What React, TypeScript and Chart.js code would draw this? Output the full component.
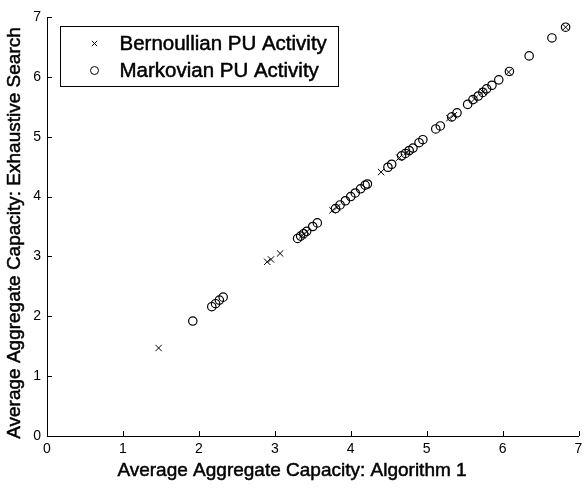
import React, { useEffect, useRef } from 'react';
import { Chart, registerables } from 'chart.js';

Chart.register(...registerables);

const FONT = '"Liberation Sans", Arial, Helvetica, sans-serif';

const bernX = [1.47, 2.90, 2.95, 3.07, 3.36, 3.42, 3.76, 3.82, 4.40, 4.64, 4.74, 5.30, 5.36, 5.63, 5.74, 6.08, 6.83];
const bernY = [1.47, 2.91, 2.95, 3.05, 3.35, 3.41, 3.77, 3.82, 4.41, 4.65, 4.74, 5.31, 5.36, 5.63, 5.75, 6.08, 6.83];

const markX = [1.92, 2.17, 2.22, 2.27, 2.32, 3.30, 3.34, 3.38, 3.42, 3.50, 3.56, 3.80, 3.86, 3.93, 4.00, 4.06, 4.13, 4.19, 4.22, 4.49, 4.54, 4.67, 4.72, 4.77, 4.82, 4.90, 4.95, 5.12, 5.18, 5.33, 5.40, 5.54, 5.61, 5.68, 5.74, 5.79, 5.86, 5.95, 6.09, 6.35, 6.65, 6.83];
const markY = [1.92, 2.16, 2.21, 2.27, 2.32, 3.30, 3.34, 3.38, 3.42, 3.50, 3.56, 3.80, 3.86, 3.93, 4.00, 4.06, 4.13, 4.19, 4.21, 4.49, 4.54, 4.68, 4.72, 4.77, 4.81, 4.90, 4.95, 5.13, 5.18, 5.33, 5.40, 5.54, 5.62, 5.68, 5.74, 5.80, 5.86, 5.95, 6.09, 6.35, 6.65, 6.83];

const tickValues = [0, 1, 2, 3, 4, 5, 6, 7];
const legendLabels = ['Bernoullian PU Activity', 'Markovian PU Activity'];
const xTitle = 'Average Aggregate Capacity: Algorithm 1';
const yTitle = 'Average Aggregate Capacity: Exhaustive Search';

function heavyText(ctx: CanvasRenderingContext2D, text: string, x: number, y: number) {
  ctx.fillText(text, x, y);
  ctx.lineWidth = 0.5;
  ctx.strokeStyle = '#000';
  ctx.strokeText(text, x, y);
}

const inwardTicks = {
  id: 'inwardTicks',
  afterDraw(chart: any) {
    const { ctx, chartArea, scales } = chart;
    const xs = scales.x;
    const ys = scales.y;
    ctx.save();
    ctx.strokeStyle = '#000';
    ctx.lineWidth = 1;
    ctx.beginPath();
    for (const v of tickValues) {
      const px = Math.round(xs.getPixelForValue(v)) + 0.5;
      ctx.moveTo(px, chartArea.bottom);
      ctx.lineTo(px, chartArea.bottom - 5);
      const py = Math.round(ys.getPixelForValue(v)) + 0.5;
      ctx.moveTo(chartArea.left, py);
      ctx.lineTo(chartArea.left + 5, py);
    }
    ctx.stroke();
    ctx.restore();
  },
};

const axisTitles = {
  id: 'axisTitles',
  afterDraw(chart: any) {
    const { ctx, width } = chart;
    ctx.save();
    ctx.fillStyle = '#000';
    ctx.font = `19px ${FONT}`;
    ctx.textAlign = 'center';
    ctx.textBaseline = 'middle';
    heavyText(ctx, xTitle, width / 2, 471);
    ctx.translate(15, 233);
    ctx.rotate(-Math.PI / 2);
    heavyText(ctx, yTitle, 0, 0);
    ctx.restore();
  },
};

const boxLegend = {
  id: 'boxLegend',
  afterDraw(chart: any) {
    const { ctx, chartArea } = chart;
    const left = chartArea.left + 13.5;
    const top = chartArea.top + 9.5;
    const w = 278;
    const h = 60;
    ctx.save();
    ctx.fillStyle = '#fff';
    ctx.fillRect(left, top, w, h);
    ctx.strokeStyle = '#000';
    ctx.lineWidth = 1;
    ctx.strokeRect(left, top, w, h);
    const styles = ['crossRot', 'circle'];
    const radii = [3.5, 4];
    for (let i = 0; i < legendLabels.length; i++) {
      const cy = top + 17 + i * 27;
      const cx = left + 34;
      ctx.strokeStyle = '#000';
      ctx.lineWidth = 1;
      ctx.beginPath();
      if (styles[i] === 'circle') {
        ctx.arc(cx, cy, radii[i], 0, Math.PI * 2);
      } else {
        const r = radii[i] * 0.75;
        ctx.moveTo(cx - r, cy - r);
        ctx.lineTo(cx + r, cy + r);
        ctx.moveTo(cx + r, cy - r);
        ctx.lineTo(cx - r, cy + r);
      }
      ctx.stroke();
      ctx.fillStyle = '#000';
      ctx.font = `20.5px ${FONT}`;
      ctx.textBaseline = 'middle';
      ctx.textAlign = 'left';
      heavyText(ctx, legendLabels[i], left + 59, cy + 1);
    }
    ctx.restore();
  },
};

export default function App() {
  const ref = useRef<HTMLCanvasElement | null>(null);
  useEffect(() => {
    if (!ref.current) return;
    const chart = new Chart(ref.current, {
      type: 'scatter',
      data: {
        datasets: [
          {
            label: legendLabels[0],
            data: bernX.map((x, i) => ({ x, y: bernY[i] })),
            pointStyle: 'crossRot',
            pointRadius: 4.5,
            pointBorderWidth: 1,
            borderColor: '#000',
            backgroundColor: 'rgba(0,0,0,0)',
          },
          {
            label: legendLabels[1],
            data: markX.map((x, i) => ({ x, y: markY[i] })),
            pointStyle: 'circle',
            pointRadius: 4.2,
            pointBorderWidth: 1.2,
            borderColor: '#000',
            backgroundColor: 'rgba(0,0,0,0)',
          },
        ],
      },
      options: {
        animation: false,
        responsive: false,
        devicePixelRatio: 1,
        clip: false as any,
        layout: { padding: { top: 17, right: 1, left: 0, bottom: 0 } },
        plugins: {
          legend: { display: false },
          tooltip: { enabled: false },
        },
        scales: {
          x: {
            type: 'linear',
            min: 0,
            max: 7,
            afterBuildTicks: (s: any) => { s.ticks = tickValues.map((v) => ({ value: v })); },
            afterFit: (s: any) => { s.height = 57; s.paddingRight = 0; s.paddingLeft = 0; },
            grid: { drawOnChartArea: false, drawTicks: false, color: 'rgba(0,0,0,0)' },
            border: { display: true, color: '#000', width: 1 },
            ticks: { color: '#000', font: { family: FONT, size: 14 }, padding: 5, maxRotation: 0 },
            title: { display: false },
          },
          y: {
            type: 'linear',
            min: 0,
            max: 7,
            afterBuildTicks: (s: any) => { s.ticks = tickValues.map((v) => ({ value: v })); },
            afterFit: (s: any) => { s.width = 47; s.paddingTop = 0; s.paddingBottom = 0; },
            grid: { drawOnChartArea: false, drawTicks: false, color: 'rgba(0,0,0,0)' },
            border: { display: true, color: '#000', width: 1 },
            ticks: { color: '#000', font: { family: FONT, size: 14 }, padding: 6 },
            title: { display: false },
          },
        },
      },
      plugins: [inwardTicks, boxLegend, axisTitles],
    } as any);
    return () => chart.destroy();
  }, []);
  return (
    <div style={{ position: 'absolute', left: 0, top: 0, width: 584, height: 493, background: '#fff' }}>
      <canvas ref={ref} width={584} height={493} style={{ width: 584, height: 493, display: 'block' }} />
    </div>
  );
}
